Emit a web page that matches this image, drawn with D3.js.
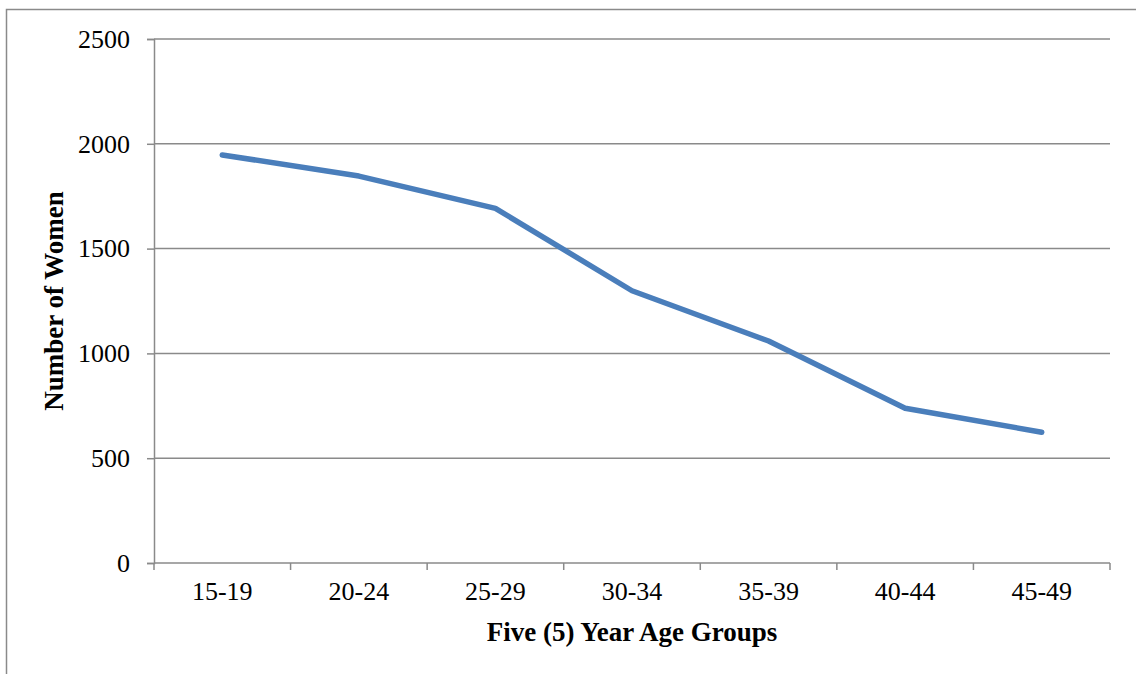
<!DOCTYPE html>
<html>
<head>
<meta charset="utf-8">
<script src="https://cdn.jsdelivr.net/npm/d3@7"></script>
<style>
  html, body { margin: 0; padding: 0; background: #fff; }
  svg { display: block; }
</style>
</head>
<body>
<svg id="chart" width="1136" height="674"></svg>
<script>
// Number of women by five-year age group
const ageGroups = ["15-19", "20-24", "25-29", "30-34", "35-39", "40-44", "45-49"];
const women = [1947, 1846, 1692, 1299, 1059, 738, 624];
const yTicks = [0, 500, 1000, 1500, 2000, 2500];

const svg = d3.select("#chart");
const W = 1136, H = 674;
const plot = { left: 154, right: 1110, top: 39, bottom: 563 };
const gridColor = "#8a8a8a";
const font = "'Liberation Serif', 'Times New Roman', serif";

// Outer chart frame (runs off the right and bottom edges)
svg.append("rect")
  .attr("x", 6.5).attr("y", 9.5)
  .attr("width", W + 10).attr("height", H + 10)
  .attr("fill", "none").attr("stroke", gridColor).attr("stroke-width", 1.5);

const x = d3.scaleBand().domain(ageGroups).range([plot.left, plot.right]).padding(0);
const y = d3.scaleLinear().domain([0, 2500]).range([plot.bottom, plot.top]);

// Horizontal gridlines
svg.append("g").selectAll("line")
  .data(yTicks.filter(d => d > 0))
  .join("line")
  .attr("x1", plot.left).attr("x2", plot.right)
  .attr("y1", d => y(d)).attr("y2", d => y(d))
  .attr("stroke", gridColor).attr("stroke-width", 1.5);

// Y axis
const yAxis = svg.append("g")
  .attr("transform", `translate(${plot.left},0)`)
  .call(d3.axisLeft(y).tickValues(yTicks).tickSize(7).tickPadding(17).tickFormat(d3.format("d")));
yAxis.select(".domain").attr("stroke", gridColor).attr("stroke-width", 1.5);
yAxis.selectAll(".tick line").attr("stroke", gridColor).attr("stroke-width", 1.5);
yAxis.selectAll(".tick text")
  .attr("font-family", font).attr("font-size", 26).attr("fill", "#000");

// X axis with tick marks at category boundaries
const xAxis = svg.append("g")
  .attr("transform", `translate(0,${plot.bottom})`)
  .call(d3.axisBottom(x).tickSize(0).tickPadding(19));
xAxis.select(".domain").remove();
xAxis.append("line")
  .attr("x1", plot.left).attr("x2", plot.right)
  .attr("stroke", gridColor).attr("stroke-width", 1.5);
xAxis.selectAll(".boundary")
  .data(ageGroups.map(d => x(d)).concat([plot.right]))
  .join("line")
  .attr("class", "boundary")
  .attr("x1", d => d).attr("x2", d => d)
  .attr("y1", 0).attr("y2", 7)
  .attr("stroke", gridColor).attr("stroke-width", 1.5);
xAxis.selectAll(".tick text")
  .attr("font-family", font).attr("font-size", 26).attr("fill", "#000");

// Data line
const line = d3.line()
  .x((d, i) => x(ageGroups[i]) + x.bandwidth() / 2)
  .y(d => y(d));
svg.append("path")
  .datum(women)
  .attr("d", line)
  .attr("fill", "none")
  .attr("stroke", "#4a7ebb")
  .attr("stroke-width", 5.5)
  .attr("stroke-linejoin", "round")
  .attr("stroke-linecap", "round");

// Axis titles
svg.append("text")
  .attr("x", (plot.left + plot.right) / 2).attr("y", 641)
  .attr("text-anchor", "middle")
  .attr("font-family", font).attr("font-weight", "bold").attr("font-size", 27)
  .text("Five (5) Year Age Groups");

svg.append("text")
  .attr("transform", `translate(63,${(plot.top + plot.bottom) / 2}) rotate(-90)`)
  .attr("text-anchor", "middle")
  .attr("font-family", font).attr("font-weight", "bold").attr("font-size", 27)
  .text("Number of Women");
</script>
</body>
</html>
